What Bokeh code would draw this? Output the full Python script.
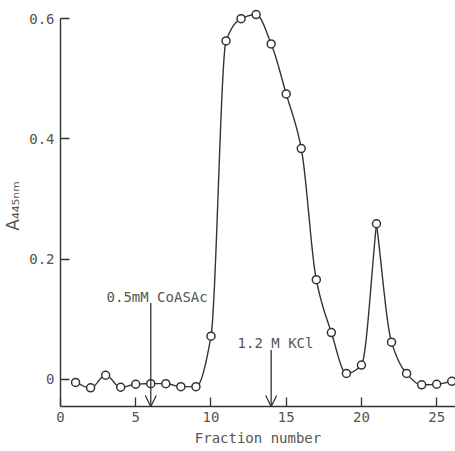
import numpy as np
from bokeh.plotting import figure
from bokeh.models import Range1d, FixedTicker, Label, Arrow, OpenHead, ColumnDataSource
from bokeh.embed import file_html
from bokeh.resources import INLINE

# Data
fraction = [1, 2, 3, 4, 5, 6, 7, 8, 9, 10, 11, 12, 13, 14, 15, 16, 17, 18, 19, 20, 21, 22, 23, 24, 25, 26]
absorbance = [-0.005, -0.014, 0.007, -0.013, -0.008, -0.007, -0.007, -0.012, -0.012, 0.072,
              0.563, 0.600, 0.607, 0.558, 0.475, 0.384, 0.166, 0.078, 0.010, 0.024,
              0.259, 0.062, 0.010, -0.009, -0.008, -0.003]
x_ticks = [0, 5, 10, 15, 20, 25]
y_ticks = [0, 0.2, 0.4, 0.6]
y_tick_labels = ["0", "0.2", "0.4", "0.6"]
arrow_fraction = [6, 14]
arrow_top = [0.127, 0.049]
arrow_text = ["0.5mM CoASAc", "1.2 M KCl"]

FONT = "DejaVu Sans Mono"
TXT = "#555555"
INK = "#333333"


def monotone_curve(xs, ys, n=24):
    """Fritsch-Carlson monotone cubic through the points (rendering only)."""
    x = np.asarray(xs, float)
    y = np.asarray(ys, float)
    h = np.diff(x)
    d = np.diff(y) / h
    m = np.zeros_like(y)
    m[0], m[-1] = d[0], d[-1]
    for i in range(1, len(y) - 1):
        if d[i - 1] * d[i] <= 0:
            m[i] = 0.0
        else:
            w1 = 2 * h[i] + h[i - 1]
            w2 = h[i] + 2 * h[i - 1]
            m[i] = (w1 + w2) / (w1 / d[i - 1] + w2 / d[i])
    ox, oy = [], []
    t = np.linspace(0, 1, n, endpoint=False)
    for i in range(len(x) - 1):
        h00 = 2 * t ** 3 - 3 * t ** 2 + 1
        h10 = t ** 3 - 2 * t ** 2 + t
        h01 = -2 * t ** 3 + 3 * t ** 2
        h11 = t ** 3 - t ** 2
        ox.extend(x[i] + t * h[i])
        oy.extend(h00 * y[i] + h10 * h[i] * m[i] + h01 * y[i + 1] + h11 * h[i] * m[i + 1])
    ox.append(x[-1])
    oy.append(y[-1])
    return ox, oy


y_min, y_max = -0.045, 0.622
p = figure(width=455, height=451, output_backend="svg", toolbar_location=None,
           x_range=Range1d(0, 26.25), y_range=Range1d(y_min, y_max),
           min_border_left=60, min_border_right=0, min_border_top=5, min_border_bottom=45)
p.outline_line_color = None
p.grid.visible = False
p.background_fill_color = "white"

# smooth curve, with a cusp at the sharp peak (fraction 21)
k = fraction.index(21)
ax_, ay_ = monotone_curve(fraction[:k + 1], absorbance[:k + 1])
bx_, by_ = monotone_curve(fraction[k:], absorbance[k:])
p.line(ax_, ay_, line_color=INK, line_width=1.4)
p.line(bx_, by_, line_color=INK, line_width=1.4)

src = ColumnDataSource(dict(x=fraction, y=absorbance))
p.scatter("x", "y", source=src, size=8, fill_color="white", line_color=INK, line_width=1.5)

# arrows and their labels
for xf, yt in zip(arrow_fraction, arrow_top):
    p.add_layout(Arrow(end=OpenHead(size=11, line_color=INK, line_width=1.3),
                       x_start=xf, y_start=yt, x_end=xf, y_end=y_min,
                       line_color=INK, line_width=1.3))
p.add_layout(Label(x=6.42, y=0.137, text=arrow_text[0], text_align="center",
                   text_baseline="alphabetic", text_font=FONT, text_font_size="14px",
                   text_color=TXT))
p.add_layout(Label(x=14.29, y=0.060, text=arrow_text[1], text_align="center",
                   text_baseline="alphabetic", text_font=FONT, text_font_size="14px",
                   text_color=TXT))

# axes
for ax in (p.xaxis, p.yaxis):
    ax.axis_line_color = INK
    ax.axis_line_width = 1.4
    ax.major_tick_line_color = INK
    ax.major_tick_line_width = 1.3
    ax.major_tick_in = 9
    ax.major_tick_out = 0
    ax.minor_tick_line_color = None
    ax.major_label_text_font = FONT
    ax.major_label_text_font_size = "14px"
    ax.major_label_text_color = TXT
    ax.axis_label_text_font = FONT
    ax.axis_label_text_font_style = "normal"
    ax.axis_label_text_color = TXT
p.xaxis.ticker = FixedTicker(ticks=x_ticks)
p.yaxis.ticker = FixedTicker(ticks=y_ticks)
p.yaxis.major_label_overrides = {t: l for t, l in zip(y_ticks, y_tick_labels)}
p.yaxis.bounds = (y_min, 0.6)
p.xaxis.major_label_standoff = 5
p.yaxis.major_label_standoff = 6
p.xaxis.axis_label = "Fraction number"
p.xaxis.axis_label_text_font_size = "14px"
p.xaxis.axis_label_standoff = 5
p.yaxis.axis_label = "A\u2084\u2084\u2085\u2099\u2098"
p.yaxis.axis_label_text_font = "DejaVu Sans"
p.yaxis.axis_label_text_font_size = "17px"
p.yaxis.axis_label_standoff = 3

open("out.html", "w").write(file_html(p, INLINE))
